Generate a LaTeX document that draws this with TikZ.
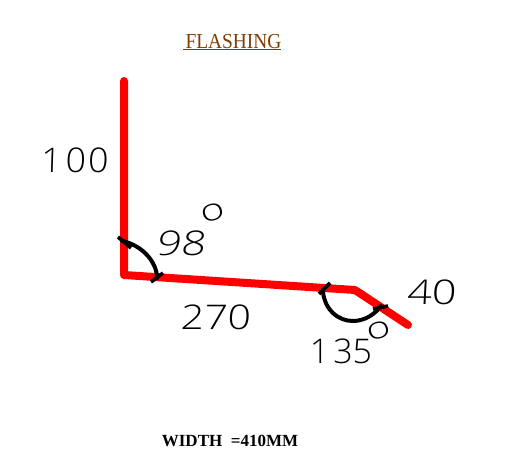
\documentclass[tikz,border=0pt]{standalone}
\usepackage{fontspec}
\setmainfont{Liberation Serif}
\newfontfamily\hand{Open Sans Light}
\definecolor{flashred}{RGB}{255,0,0}
\definecolor{titlebrown}{RGB}{125,62,0}
\tikzset{
  flashing/.style={draw=flashred,line width=8pt,line join=round,line cap=round},
  anglearc/.style={draw=black,line width=4pt,line cap=round,line join=round},
  angletick/.style={draw=black,line width=3.6pt,line cap=butt},
  dim/.style={inner sep=0pt,text=black,font=\hand\fontsize{34}{34}\selectfont},
  deg/.style={inner sep=0pt,text=black,font=\hand\fontsize{34}{34}\selectfont},
}
\begin{document}
\begin{tikzpicture}[x=1pt,y=-1pt]
\useasboundingbox (0,0) rectangle (519,473);
\fill[white] (0,0) rectangle (519,473);
\draw[flashing] (124,81) -- (124,275) -- (355,290) -- (408,325);
\draw[anglearc] (122,241) .. controls (142,245) and (157,262) .. (157,278);
\draw[angletick] (118,237) -- (131,248);
\draw[angletick] (151,282) -- (163,273);
\draw[anglearc] (323,292) .. controls (325,310) and (338,321) .. (353,321) .. controls (365,321) and (375,314) .. (381,306);
\draw[angletick] (330,283) -- (319,294);
\draw[angletick] (373,309) -- (388,306);
\node[inner sep=0pt,text=titlebrown,font=\fontsize{19.4}{19.4}\selectfont,yscale=1.1] (title) at (233.5,41.5) {FLASHING};
\coordinate (ulL) at (183,49.5);
\coordinate (ulR) at (281,49.5);
\draw[titlebrown,line width=1.3pt] (ulL) -- (ulR);
\node[dim,xslant=0.03,xscale=1.05] (d100) at (75,160) {1\kern4pt 0\kern2pt 0};
\node[dim,xslant=0.15,xscale=1.27] (d98) at (182,243) {98};
\node[deg,rotate=15,xscale=1.2,yscale=0.9] (o98) at (213,213) {o};
\node[dim,xslant=0.05,xscale=1.2] (d270) at (216,317) {270};
\node[dim,xslant=0.05,xscale=1.27] (d40) at (432,292) {40};
\node[dim] (d135) at (341,351) {1\kern4pt 35};
\node[deg,rotate=15,xscale=1.2,yscale=0.9] (o135) at (379,331) {o};
\node[inner sep=0pt,font=\bfseries\fontsize{17}{17}\selectfont] (width) at (230,441) {WIDTH\ \ =410MM};
\end{tikzpicture}
\end{document}
